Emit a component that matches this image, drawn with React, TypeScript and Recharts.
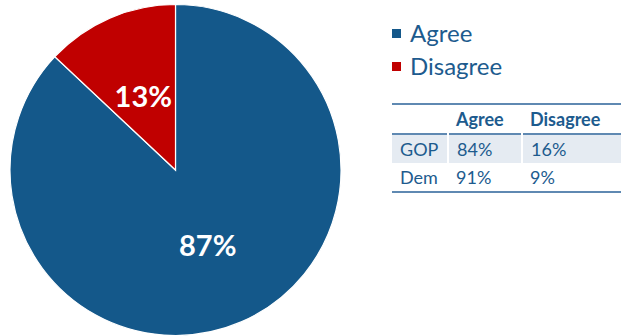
import { Cell, Legend, Pie, PieChart } from 'recharts'

const categories = ['Agree', 'Disagree']
const shares = [87, 13]
const colors = ['#14588a', '#c00000']

const tableHeader = ['', 'Agree', 'Disagree']
const parties = ['GOP', 'Dem']
const partyAgree = ['84%', '91%']
const partyDisagree = ['16%', '9%']

const textBlue = '#1d5b8e'
const font = 'Lato, "Open Sans", sans-serif'

const RADIAN = Math.PI / 180

const renderLabel = (props: any) => {
  const { cx, cy, midAngle, outerRadius, value } = props
  const r = outerRadius * 0.49
  const x = cx + r * Math.cos(-midAngle * RADIAN)
  const y = cy + r * Math.sin(-midAngle * RADIAN)
  return (
    <text
      x={x}
      y={y}
      fill='#fff'
      fontSize={29}
      fontWeight={700}
      fontFamily={font}
      textAnchor='middle'
      dominantBaseline='central'
    >
      {value}%
    </text>
  )
}

const renderLegend = () => (
  <div style={{ fontFamily: font }}>
    {categories.map((c, i) => (
      <div key={c} style={{ display: 'flex', alignItems: 'center', height: 33 }}>
        <span style={{ width: 9, height: 9, background: colors[i], marginRight: 9, marginTop: 2 }} />
        <span style={{ color: textBlue, fontSize: 24 }}>{c}</span>
      </div>
    ))}
  </div>
)

export default function App() {
  const data = categories.map((name, i) => ({ name, value: shares[i] }))
  const cell = { padding: '0 0 0 8px', height: 28 }

  return (
    <div style={{ position: 'absolute', left: 0, top: 0, width: 621, height: 336, background: '#fff' }}>
      <PieChart width={621} height={336} margin={{ top: 0, right: 0, bottom: 0, left: 0 }}>
        <Pie
          data={data}
          dataKey='value'
          nameKey='name'
          cx={175.5}
          cy={170}
          outerRadius={165.5}
          startAngle={90}
          endAngle={-270}
          stroke='#fff'
          strokeWidth={1.2}
          label={renderLabel}
          labelLine={false}
          isAnimationActive={false}
        >
          {data.map((d, i) => (
            <Cell key={d.name} fill={colors[i]} />
          ))}
        </Pie>
        <Legend
          content={renderLegend}
          layout='vertical'
          verticalAlign='top'
          align='right'
          wrapperStyle={{ left: 392, top: 16, width: 200 }}
        />
      </PieChart>
      <table
        style={{
          position: 'absolute',
          left: 392,
          top: 103,
          width: 229,
          borderCollapse: 'collapse',
          fontFamily: font,
          fontSize: 18,
          color: textBlue,
          borderTop: '2px solid #5f89b2',
          borderBottom: '2px solid #5f89b2',
        }}
      >
        <thead>
          <tr style={{ borderBottom: '2px solid #5f89b2' }}>
            {tableHeader.map((h, i) => (
              <th key={i} style={{ ...cell, textAlign: 'left', fontWeight: 700, width: i === 0 ? 48 : i === 1 ? 66 : undefined }}>
                {h}
              </th>
            ))}
          </tr>
        </thead>
        <tbody>
          {parties.map((p, i) => {
            const sep = i === 0 ? { borderRight: '2px solid #fff' } : {}
            return (
              <tr key={p} style={{ background: i === 0 ? '#e5ebf2' : '#fff' }}>
                <td style={{ ...cell, ...sep }}>{p}</td>
                <td style={{ ...cell, ...sep }}>{partyAgree[i]}</td>
                <td style={cell}>{partyDisagree[i]}</td>
              </tr>
            )
          })}
        </tbody>
      </table>
    </div>
  )
}
